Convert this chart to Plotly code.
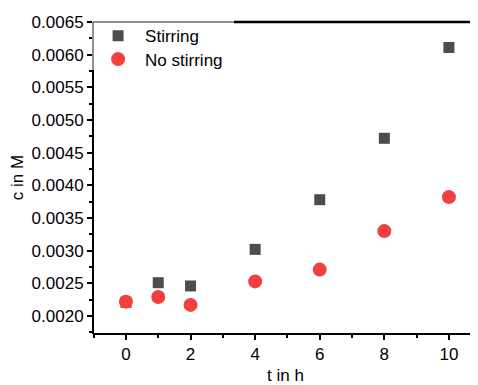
import plotly.graph_objects as go

t_hours = [0, 1, 2, 4, 6, 8, 10]
stirring = [0.00221, 0.00251, 0.00246, 0.00302, 0.00378, 0.00472, 0.00611]
no_stirring = [0.00222, 0.00229, 0.00217, 0.00253, 0.00271, 0.00330, 0.00382]
series_names = ["Stirring", "No stirring"]
x_title = "t in h"
y_title = "c in M"

FONT = "Liberation Sans, Arial, sans-serif"
FS = 17

fig = go.Figure()
fig.add_trace(go.Scatter(
    x=t_hours, y=stirring, mode="markers", name=series_names[0], legend="legend",
    marker=dict(symbol="square", size=11, color="#4d4d4d", line=dict(width=0)),
))
fig.add_trace(go.Scatter(
    x=t_hours, y=no_stirring, mode="markers", name=series_names[1], legend="legend2",
    marker=dict(symbol="circle", size=14, color="#f14040", line=dict(width=0)),
))

# page body has an 8px offset in the browser; compensate
OFF = 8
W, H = 478 - OFF, 385 - OFF
ml, mr, mt, mb = 93 - OFF, 0, 22 - OFF, 52
pw = W - ml - mr
ph = H - mt - mb

# paper fractions for partial frame lines (legend covers part of the frame)
y_break = (H - mb - (70 - OFF)) / ph
x_break = (234 - OFF - ml) / pw

leg_common = dict(xanchor="left", yanchor="top", bgcolor="rgba(0,0,0,0)", borderwidth=0,
                  itemwidth=44, font=dict(size=FS))

fig.update_layout(
    width=W, height=H,
    margin=dict(l=ml, r=mr, t=mt, b=mb, autoexpand=False),
    paper_bgcolor="white", plot_bgcolor="white",
    font=dict(family=FONT, size=FS, color="black"),
    showlegend=True,
    legend=dict(x=-0.005, y=1.012, **leg_common),
    legend2=dict(x=-0.005, y=1.012 - 23.3 / ph, **leg_common),
    xaxis=dict(
        range=[-1.02, 10.9], showgrid=False, zeroline=False, automargin=False,
        showline=True, linewidth=2, linecolor="black",
        ticks="outside", ticklen=5, tickwidth=2, tickcolor="black",
        tick0=0, dtick=2,
        minor=dict(ticks="outside", ticklen=3, tickwidth=2, tickcolor="black", dtick=1, tick0=1),
        title=dict(text=x_title, font=dict(size=FS), standoff=8),
        tickfont=dict(size=FS),
    ),
    yaxis=dict(
        range=[0.00174, 0.0065], showgrid=False, zeroline=False, automargin=False,
        showline=False,
        ticks="outside", ticklen=5, tickwidth=2, tickcolor="black",
        tick0=0.002, dtick=0.0005, tickformat=".4f",
        minor=dict(ticks="outside", ticklen=3, tickwidth=2, tickcolor="black", dtick=0.00025, tick0=0.00175),
        title=dict(text=y_title, font=dict(size=FS), standoff=3),
        tickfont=dict(size=FS),
    ),
    shapes=[
        dict(type="line", xref="paper", yref="paper", x0=0, x1=0, y0=-0.003, y1=y_break,
             line=dict(color="black", width=2)),
        dict(type="line", xref="paper", yref="paper", x0=0, x1=0, y0=y_break, y1=1,
             line=dict(color="#222222", width=1)),
        dict(type="line", xref="paper", yref="paper", x0=0, x1=x_break, y0=1, y1=1,
             line=dict(color="#222222", width=1)),
        dict(type="line", xref="paper", yref="paper", x0=x_break, x1=1, y0=1, y1=1,
             line=dict(color="black", width=2.5)),
    ],
)

fig.write_html("out.html")
